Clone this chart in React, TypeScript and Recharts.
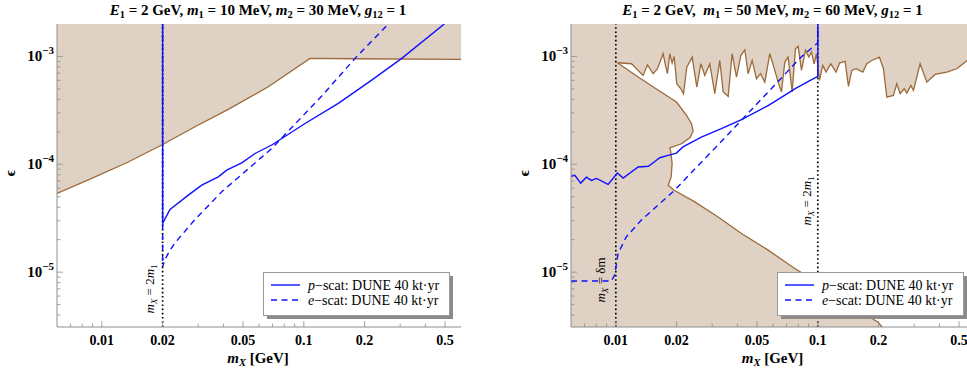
import React from 'react';
import { ComposedChart, Area, Line, XAxis, YAxis, Legend } from 'recharts';

type Pt = [number, number];

// ---------- axes ----------
const X_DOMAIN: [number, number] = [0.006, 0.6];
const EPS_DOMAIN: [number, number] = [3.1e-6, 2e-3];
const xMajorTicks = [0.01, 0.02, 0.05, 0.1, 0.2, 0.5];
const xMinorTicks = [0.007, 0.008, 0.009, 0.03, 0.04, 0.06, 0.07, 0.08, 0.09, 0.3, 0.4];
const epsMajorTicks = [1e-5, 1e-4, 1e-3];
const epsMinorTicks = [
  4e-6, 5e-6, 6e-6, 7e-6, 8e-6, 9e-6,
  2e-5, 3e-5, 4e-5, 5e-5, 6e-5, 7e-5, 8e-5, 9e-5,
  2e-4, 3e-4, 4e-4, 5e-4, 6e-4, 7e-4, 8e-4, 9e-4,
];

// ---------- left panel: m1 = 10 MeV, m2 = 30 MeV ----------
const leftExclusion: Pt[] = [
  [0.006, 5.37e-5], [0.00891, 7.4e-5], [0.01352, 1.05e-4], [0.01979, 1.51e-4],
  [0.02893, 2.23e-4], [0.04228, 3.23e-4], [0.06673, 5.23e-4], [0.1073, 9.6e-4],
  [0.1793, 9.52e-4], [0.6, 9.4e-4],
];
const leftPScat: Pt[] = [
  [0.02, 2e-3], [0.02, 2.83e-5], [0.02176, 3.82e-5], [0.0268, 5.18e-5], [0.03124, 6.41e-5],
  [0.03774, 7.66e-5], [0.04152, 8.83e-5], [0.04928, 1.03e-4], [0.05734, 1.26e-4],
  [0.06934, 1.51e-4], [0.1014, 2.39e-4], [0.1482, 3.67e-4], [0.2168, 6.04e-4],
  [0.3053, 9.6e-4], [0.496, 2e-3],
];
const leftEScat: Pt[] = [
  [0.02, 2e-3], [0.02, 1.12e-5], [0.02055, 1.31e-5], [0.02176, 1.6e-5], [0.02304, 1.87e-5],
  [0.02893, 3.08e-5], [0.03923, 5.56e-5], [0.06934, 1.4e-4], [0.1227, 4.3e-4],
  [0.1793, 9.6e-4], [0.262, 2e-3],
];
const leftMarkers = [0.02];

// ---------- right panel: m1 = 50 MeV, m2 = 60 MeV ----------
const rightTop: Pt[] = [
  [0.01019, 8.74e-4], [0.01196, 8.56e-4], [0.01365, 6.67e-4], [0.01435, 8.37e-4], [0.0153, 6.92e-4],
  [0.01608, 7.69e-4], [0.01715, 1.06e-3], [0.01761, 8.26e-4], [0.01802, 6.92e-4], [0.0185, 1.06e-3],
  [0.019, 8.68e-4], [0.01944, 1.0e-3], [0.02004, 5.58e-4], [0.02099, 5.02e-4], [0.02163, 4.51e-4],
  [0.02246, 7.96e-4], [0.02388, 9.86e-4], [0.02518, 5.2e-4], [0.02636, 8.55e-4], [0.02758, 6.67e-4],
  [0.02919, 8.55e-4], [0.0309, 4.51e-4], [0.03272, 9.18e-4], [0.034, 4.68e-4], [0.036, 4.27e-4],
  [0.03766, 1.06e-3], [0.03957, 6.44e-4], [0.04158, 1.02e-3], [0.04352, 1.15e-3], [0.04519, 6.92e-4],
  [0.04731, 9.18e-4], [0.0497, 6.21e-4], [0.05202, 6.92e-4], [0.05465, 5.78e-4], [0.05785, 1.06e-3],
  [0.06056, 7.96e-4], [0.06363, 5.78e-4], [0.06608, 4.68e-4], [0.06864, 8.87e-4], [0.07129, 9.86e-4],
  [0.07464, 4.68e-4], [0.07753, 1.18e-3], [0.07992, 1.24e-3], [0.08301, 7.42e-4], [0.08689, 1.14e-3],
  [0.09023, 9.86e-4], [0.09302, 1.1e-3], [0.0959, 8.55e-4], [0.09849, 1.06e-3], [0.1019, 6.0e-4],
  [0.1058, 8.26e-4], [0.1099, 7.16e-4], [0.1159, 8.55e-4], [0.1232, 7.16e-4], [0.128, 8.67e-4],
  [0.1365, 8.99e-4], [0.1418, 5.27e-4], [0.1473, 7.42e-4], [0.1547, 7.69e-4], [0.167, 7.16e-4],
  [0.1748, 8.55e-4], [0.185, 9.18e-4], [0.2018, 9.86e-4], [0.2113, 7.69e-4], [0.2196, 4.2e-4],
  [0.2368, 4.35e-4], [0.246, 5.58e-4], [0.2556, 4.51e-4], [0.2675, 5.02e-4], [0.2758, 4.57e-4],
  [0.2886, 5.38e-4], [0.2975, 4.84e-4], [0.3209, 8.55e-4], [0.3463, 5.78e-4], [0.3808, 6.81e-4],
  [0.435, 7.16e-4], [0.4876, 7.69e-4], [0.5486, 9.18e-4], [0.6, 1.0e-3],
];
const rightUpperDiag: Pt[] = [
  [0.01019, 8.74e-4], [0.01242, 6.76e-4], [0.0156, 5.1e-4], [0.01997, 3.78e-4],
  [0.02239, 2.85e-4], [0.02369, 2.38e-4], [0.02415, 2.04e-4],
];
const rightNoseLower: Pt[] = [
  [0.02415, 2.04e-4], [0.02333, 1.77e-4], [0.02113, 1.55e-4], [0.0185, 1.42e-4],
];
const rightLowerEdge: Pt[] = [
  [0.0185, 1.42e-4], [0.01872, 1.3e-4], [0.019, 1.01e-4], [0.01879, 7.64e-5], [0.01816, 6.4e-5],
  [0.01945, 5.74e-5], [0.0246, 4.48e-5], [0.0321, 3.25e-5], [0.0419, 2.28e-5], [0.0568, 1.6e-5],
  [0.0769, 1.08e-5], [0.1, 8.0e-6], [0.13, 5.8e-6], [0.1734, 4.0e-6], [0.1988, 3.44e-6], [0.208, 3.1e-6],
];
const rightPScat: Pt[] = [
  [0.006, 7.74e-5], [0.00627, 7.9e-5], [0.0067, 6.7e-5], [0.00715, 7.6e-5], [0.00757, 7.1e-5],
  [0.00802, 7.4e-5], [0.00916, 6.5e-5], [0.01018, 8.3e-5], [0.01087, 7.46e-5], [0.0129, 9.44e-5],
  [0.0145, 9.6e-5], [0.0159, 1.09e-4], [0.01649, 1.15e-4], [0.01815, 1.21e-4], [0.01996, 1.27e-4],
  [0.0215, 1.45e-4], [0.0265, 1.79e-4], [0.0297, 1.96e-4], [0.0333, 2.14e-4], [0.0419, 2.6e-4],
  [0.0567, 3.5e-4], [0.066, 4.17e-4], [0.0769, 5.0e-4], [0.0894, 5.83e-4], [0.1, 6.53e-4], [0.1, 2e-3],
];
const rightEScat: Pt[] = [
  [0.006, 8.27e-6], [0.0095, 8.27e-6], [0.00987, 9.4e-6], [0.01026, 1.49e-5], [0.01128, 2.13e-5],
  [0.01338, 3.04e-5], [0.01956, 5.76e-5], [0.02457, 9.03e-5], [0.03206, 1.51e-4], [0.04345, 2.76e-4],
  [0.0612, 5.43e-4], [0.0829, 9.95e-4], [0.1, 1.34e-3], [0.1, 2e-3],
];
const rightMarkers = [0.01, 0.1];

// ---------- styles ----------
const TAN = '#dfd1c3';
const BROWN = '#9d6a3a';
const BLUE = '#1010ff';
const FRAME = '#8e8e8e';
const SERIF = '"Liberation Serif", "Times New Roman", serif';
const PLOT_W = 404;
const PLOT_H = 303;
const TOP = 24;
const X_AXIS_H = 51;

const xTicks = [...xMinorTicks, ...xMajorTicks].sort((a, b) => a - b);
const epsTicks = [...epsMinorTicks, ...epsMajorTicks].sort((a, b) => a - b);
const isIn = (arr: number[], v: number) => arr.some((t) => Math.abs(t - v) / t < 1e-6);

const toLine = (pts: Pt[]) => pts.map(([x, e]) => ({ x, e }));
const toRange = (pts: Pt[], below: boolean) =>
  pts.map(([x, e]) => ({ x, r: below ? [EPS_DOMAIN[0], e] : [e, EPS_DOMAIN[1]] }));
const markerLine = (m: number) => [
  { x: m, e: EPS_DOMAIN[0] },
  { x: m, e: EPS_DOMAIN[1] },
];

const XTick = (props: any) => {
  const { x, y, payload } = props;
  const v = payload.value;
  const major = isIn(xMajorTicks, v);
  return (
    <g>
      <line x1={x} x2={x} y1={y} y2={y - (major ? 6 : 3.5)} stroke={FRAME} strokeWidth={0.8} />
      {major && (
        <text x={x} y={y + 18} textAnchor="middle" fontFamily={SERIF} fontWeight="bold" fontSize={14} fill="#000">
          {String(v)}
        </text>
      )}
    </g>
  );
};

const YTick = (props: any) => {
  const { x, y, payload } = props;
  const v = payload.value;
  const major = isIn(epsMajorTicks, v);
  const exp = Math.round(Math.log10(v));
  return (
    <g>
      <line x1={x} x2={x + (major ? 6 : 3.5)} y1={y} y2={y} stroke={FRAME} strokeWidth={0.8} />
      {major && (
        <text x={x - 3} y={y + 5} textAnchor="end" fontFamily={SERIF} fontWeight="bold" fontSize={15} fill="#000">
          <tspan>10</tspan>
          <tspan dy={-7} fontSize={11}>{'\u2212' + Math.abs(exp)}</tspan>
        </text>
      )}
    </g>
  );
};

const LegendBox = () => (
  <svg width={194} height={48} style={{ display: 'block' }}>
    <rect x={4} y={4} width={186} height={43} fill="#8a8a8a" />
    <rect x={0.5} y={0.5} width={186} height={43} fill="#fff" stroke="#9a9a9a" strokeWidth={1} />
    <line x1={8} x2={37} y1={13} y2={13} stroke={BLUE} strokeWidth={1.4} />
    <line x1={8} x2={37} y1={28} y2={28} stroke={BLUE} strokeWidth={1.4} strokeDasharray="6 4.5" />
    <text x={45} y={17.5} fontFamily={SERIF} fontSize={14} fill="#000">
      <tspan fontStyle="italic">p</tspan>
      <tspan>{'\u2212scat: DUNE 40 kt\u00b7yr'}</tspan>
    </text>
    <text x={45} y={32.5} fontFamily={SERIF} fontSize={14} fill="#000">
      <tspan fontStyle="italic">e</tspan>
      <tspan>{'\u2212scat: DUNE 40 kt\u00b7yr'}</tspan>
    </text>
  </svg>
);

function Panel({ yAxisWidth, legendLeft, children }: any) {
  const width = yAxisWidth + PLOT_W;
  return (
    <ComposedChart width={width} height={TOP + PLOT_H + X_AXIS_H} margin={{ top: TOP, right: 0, bottom: 0, left: 0 }}>
      {children}
      <XAxis
        dataKey="x" type="number" scale="log" domain={X_DOMAIN} allowDataOverflow
        ticks={xTicks} interval={0} tick={<XTick />} tickLine={false} tickSize={0} tickMargin={0}
        axisLine={{ stroke: FRAME, strokeWidth: 1 }} height={X_AXIS_H}
      />
      <XAxis
        xAxisId="top" orientation="top" dataKey="x" type="number" scale="log" domain={X_DOMAIN} allowDataOverflow
        tick={false} tickLine={false} axisLine={{ stroke: FRAME, strokeWidth: 1 }} height={0}
      />
      <YAxis
        type="number" scale="log" domain={EPS_DOMAIN} allowDataOverflow
        ticks={epsTicks} interval={0} tick={<YTick />} tickLine={false} tickSize={0} tickMargin={0}
        axisLine={{ stroke: FRAME, strokeWidth: 1 }} width={yAxisWidth}
      />
      <YAxis
        yAxisId="right" orientation="right" type="number" scale="log" domain={EPS_DOMAIN} allowDataOverflow
        tick={false} tickLine={false} axisLine={{ stroke: FRAME, strokeWidth: 1 }} width={0}
      />
      <Legend
        layout="horizontal" verticalAlign="middle" align="center"
        wrapperStyle={{ left: legendLeft, top: 272, width: 194, height: 48 }}
        content={() => <LegendBox />}
      />
    </ComposedChart>
  );
}

const common = { isAnimationActive: false, dot: false, activeDot: false, type: 'linear' as const };

const TextAt = ({ cx, cy, rot, size, bold, children }: any) => (
  <div
    style={{
      position: 'absolute', left: cx, top: cy, whiteSpace: 'nowrap', lineHeight: 1,
      transform: `translate(-50%, -50%)${rot ? ' rotate(-90deg)' : ''}`,
      fontFamily: SERIF, fontSize: size, fontWeight: bold ? 'bold' : 'normal', color: '#000',
    }}
  >
    {children}
  </div>
);
const Sub = ({ children }: any) => (
  <span style={{ fontSize: '0.7em', position: 'relative', top: '0.3em' }}>{children}</span>
);

export default function App() {
  // closed boundary of the allowed (white) region of the right panel
  const rightContour: Pt[] = [...rightUpperDiag, ...rightNoseLower.slice(1), ...rightLowerEdge.slice(1)];
  const fullPlot = [
    { x: X_DOMAIN[0], r: [EPS_DOMAIN[0], EPS_DOMAIN[1]] },
    { x: X_DOMAIN[1], r: [EPS_DOMAIN[0], EPS_DOMAIN[1]] },
  ];
  const rightAllowed: Pt[] = [
    ...rightTop,
    [X_DOMAIN[1], EPS_DOMAIN[0]],
    ...[...rightContour].reverse(),
  ];
  return (
    <div style={{ position: 'absolute', left: 0, top: 0, width: 967, height: 378, overflow: 'hidden', background: '#fff' }}>
      <div style={{ position: 'absolute', left: 0, top: 0 }}>
        <Panel yAxisWidth={57} legendLeft={263}>
          <Area {...common} data={toRange(leftExclusion, false)} dataKey="r" stroke="none" fill={TAN} fillOpacity={1} />
          {leftMarkers.map((m) => (
            <Line key={m} {...common} data={markerLine(m)} dataKey="e" stroke="#000" strokeWidth={1.7} strokeDasharray="1.6 2.6" />
          ))}
          <Line {...common} data={toLine(leftExclusion)} dataKey="e" stroke={BROWN} strokeWidth={1.3} />
          <Line {...common} data={toLine(leftPScat)} dataKey="e" stroke={BLUE} strokeWidth={1.4} />
          <Line {...common} data={toLine(leftEScat)} dataKey="e" stroke={BLUE} strokeWidth={1.4} strokeDasharray="6 4.5" />
        </Panel>
      </div>
      <div style={{ position: 'absolute', left: 480, top: 0 }}>
        <Panel yAxisWidth={91} legendLeft={297}>
          <Area {...common} data={fullPlot} dataKey="r" stroke="none" fill={TAN} fillOpacity={1} />
          <Area {...common} data={toRange(rightAllowed, true)} dataKey="r" stroke="none" fill="#fff" fillOpacity={1} />
          {rightMarkers.map((m) => (
            <Line key={m} {...common} data={markerLine(m)} dataKey="e" stroke="#000" strokeWidth={1.7} strokeDasharray="1.6 2.6" />
          ))}
          <Line {...common} data={toLine(rightTop)} dataKey="e" stroke={BROWN} strokeWidth={1.3} />
          <Line {...common} data={toLine(rightContour)} dataKey="e" stroke={BROWN} strokeWidth={1.3} />
          <Line {...common} data={toLine(rightPScat)} dataKey="e" stroke={BLUE} strokeWidth={1.4} />
          <Line {...common} data={toLine(rightEScat)} dataKey="e" stroke={BLUE} strokeWidth={1.4} strokeDasharray="6 4.5" />
        </Panel>
      </div>

      {/* titles */}
      <TextAt cx={258} cy={10} size={15} bold>
        <i>E</i><Sub>1</Sub> = 2 GeV, <i>m</i><Sub>1</Sub> = 10 MeV, <i>m</i><Sub>2</Sub> = 30 MeV, <i>g</i><Sub>12</Sub> = 1
      </TextAt>
      <TextAt cx={772.5} cy={10} size={15} bold>
        <i>E</i><Sub>1</Sub> = 2 GeV,&nbsp; <i>m</i><Sub>1</Sub> = 50 MeV, <i>m</i><Sub>2</Sub> = 60 MeV, <i>g</i><Sub>12</Sub> = 1
      </TextAt>
      {/* x labels */}
      <TextAt cx={258} cy={358} size={15} bold><i>m</i><Sub><i>X</i></Sub> [GeV]</TextAt>
      <TextAt cx={772.5} cy={358} size={15} bold><i>m</i><Sub><i>X</i></Sub> [GeV]</TextAt>
      {/* y labels */}
      <TextAt cx={10} cy={173} size={15} bold rot>{'\u03f5'}</TextAt>
      <TextAt cx={524} cy={173} size={15} bold rot>{'\u03f5'}</TextAt>
      {/* in-plot annotations */}
      <TextAt cx={150} cy={289} size={13} rot><i>m</i><Sub><i>X</i></Sub> = 2<i>m</i><Sub>1</Sub></TextAt>
      <TextAt cx={601} cy={280} size={13} rot><i>m</i><Sub><i>X</i></Sub> = δm</TextAt>
      <TextAt cx={807} cy={201} size={13} rot><i>m</i><Sub><i>X</i></Sub> = 2<i>m</i><Sub>1</Sub></TextAt>
    </div>
  );
}
